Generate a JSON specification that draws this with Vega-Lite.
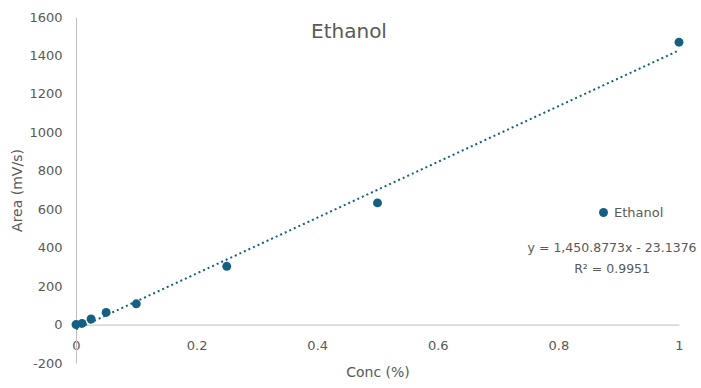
{
  "$schema": "https://vega.github.io/schema/vega-lite/v6.json",
  "width": 603,
  "height": 346,
  "autosize": {"type": "none"},
  "padding": {"left": 76, "top": 17, "right": 22, "bottom": 25},
  "background": "white",
  "config": {
    "view": {"stroke": null},
    "font": "DejaVu Sans",
    "axis": {"grid": false, "ticks": false, "domainColor": "#BFBFBF", "domainWidth": 1, "labelColor": "#595959", "titleColor": "#595959", "labelFont": "DejaVu Sans", "titleFont": "DejaVu Sans", "labelFontSize": 13, "titleFontSize": 14, "titleFontWeight": "normal", "labelOverlap": false}
  },
  "data": {"values": [
    {"conc": 0, "area": 0, "series": "Ethanol"},
    {"conc": 0.01, "area": 6, "series": "Ethanol"},
    {"conc": 0.025, "area": 29, "series": "Ethanol"},
    {"conc": 0.05, "area": 63, "series": "Ethanol"},
    {"conc": 0.1, "area": 108, "series": "Ethanol"},
    {"conc": 0.25, "area": 303, "series": "Ethanol"},
    {"conc": 0.5, "area": 633, "series": "Ethanol"},
    {"conc": 1, "area": 1469, "series": "Ethanol"}
  ]},
  "encoding": {
    "x": {"field": "conc", "type": "quantitative", "scale": {"domain": [0, 1], "nice": false},
          "axis": {"title": "Conc (%)", "values": [0, 0.2, 0.4, 0.6, 0.8, 1], "format": "~g", "offset": -38.4, "labelPadding": 15, "titlePadding": 13, "labelFlush": false, "labelOverlap": false}},
    "y": {"field": "area", "type": "quantitative", "scale": {"domain": [-200, 1600], "nice": false},
          "axis": {"title": "Area (mV/s)", "values": [-200, 0, 200, 400, 600, 800, 1000, 1200, 1400, 1600], "labelPadding": 14, "titlePadding": 4, "labelFlush": false, "labelOverlap": false, "labelBound": false,
                   "labelExpr": "datum.value < 0 ? '-' + format(-datum.value, 'd') : format(datum.value, 'd')"}}
  },
  "layer": [
    {
      "transform": [{"regression": "area", "on": "conc", "extent": [0, 1]}],
      "mark": {"type": "line", "color": "#156082", "strokeWidth": 2, "strokeDash": [2, 3], "clip": false}
    },
    {
      "mark": {"type": "point", "filled": true, "opacity": 1, "size": 80, "shape": "circle"},
      "encoding": {
        "color": {"field": "series", "type": "nominal", "scale": {"range": ["#156082"]},
                  "legend": {"title": null, "orient": "none", "legendX": 521, "legendY": 189, "padding": 0, "symbolType": "circle", "symbolSize": 80, "labelFont": "DejaVu Sans", "labelFontSize": 13, "labelColor": "#595959", "symbolOpacity": 1}}
      }
    },
    {
      "data": {"values": [{"conc": 0.4527, "area": 1491, "title": "Ethanol"}]},
      "mark": {"type": "text", "align": "center", "baseline": "alphabetic", "font": "DejaVu Sans", "fontSize": 20, "color": "#595959", "clip": false},
      "encoding": {
        "text": {"field": "title", "type": "nominal"}
      }
    },
    {
      "data": {"values": [{"conc": 0.889, "area": 430}]},
      "mark": {"type": "text", "align": "center", "baseline": "top", "font": "DejaVu Sans", "fontSize": 12.5, "color": "#595959", "lineHeight": 21},
      "encoding": {
        "text": {"value": ["y = 1,450.8773x - 23.1376", "R² = 0.9951"]}
      }
    }
  ]
}
